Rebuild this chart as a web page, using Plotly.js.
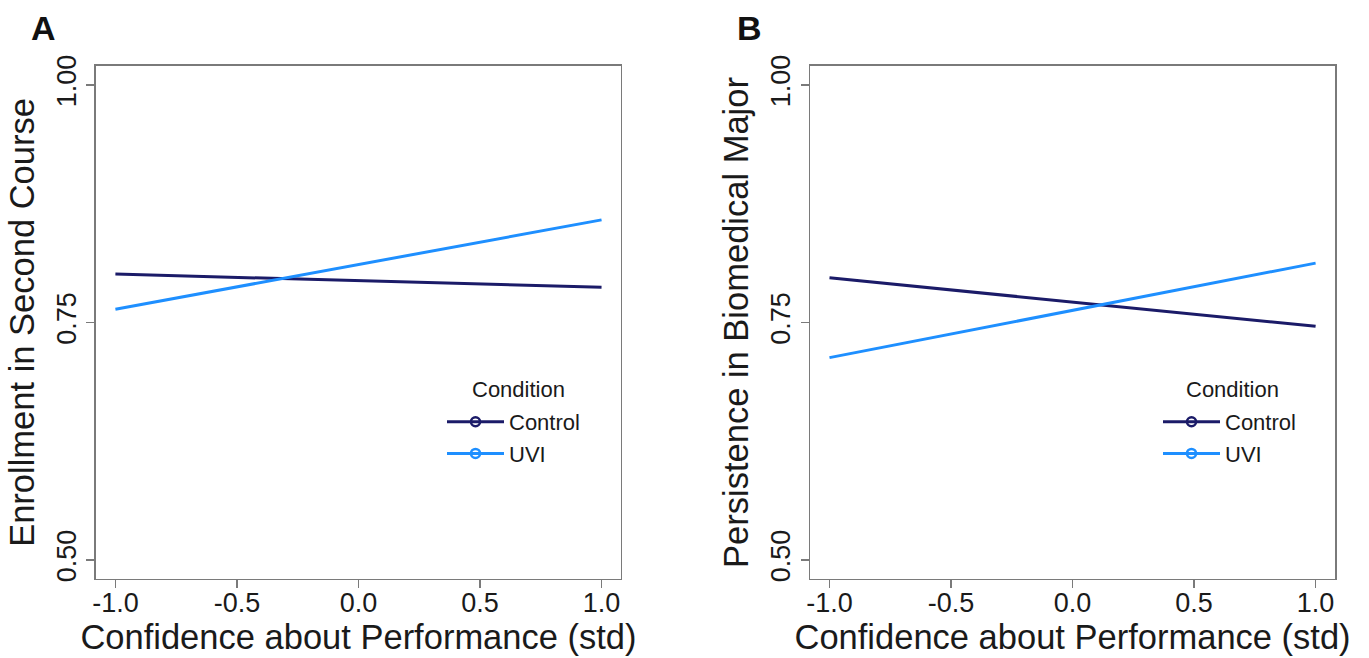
<!DOCTYPE html>
<html>
<head>
<meta charset="utf-8">
<script src="https://cdn.plot.ly/plotly-3.0.1.min.js"></script>
<style>html,body{margin:0;padding:0;background:#fff;}#chart{width:1369px;height:658px;}</style>
</head>
<body>
<div id="chart"></div>
<script>
// Data
const xPoints = [-1.0, 1.0];
const enrollControl = [0.801, 0.787];
const enrollUVI = [0.764, 0.858];
const persistControl = [0.797, 0.746];
const persistUVI = [0.713, 0.8125];
const conditions = ['Control', 'UVI'];
const legendTitle = 'Condition';
const xTickVals = [-1.0, -0.5, 0.0, 0.5, 1.0];
const xTickText = ['-1.0', '-0.5', '0.0', '0.5', '1.0'];
const yTickVals = [0.50, 0.75, 1.00];
const yTickText = ['0.50', '0.75', '1.00'];
const panelLabels = ['A', 'B'];
const yTitles = ['Enrollment in Second Course', 'Persistence in Biomedical Major'];
const xTitle = 'Confidence about Performance (std)';

const colors = {Control: '#1b1b68', UVI: '#1e8fff'};
const FONT = 'Liberation Sans, Arial, Helvetica, sans-serif';
const TXT = '#1a1a1a';

function lineTrace(y, name, xa, ya) {
  return {x: xPoints, y: y, xaxis: xa, yaxis: ya, mode: 'lines', name: name,
    showlegend: false, hoverinfo: 'skip',
    line: {color: colors[name], width: 3}};
}
function legendTrace(name, xa, ya, leg) {
  return {x: [null], y: [null], xaxis: xa, yaxis: ya, mode: 'lines+markers', name: name,
    legend: leg, showlegend: true,
    line: {color: colors[name], width: 3},
    marker: {symbol: 'circle-open', size: 9, color: colors[name], line: {width: 2.5, color: colors[name]}}};
}

const traces = [
  lineTrace(enrollControl, conditions[0], 'x', 'y'),
  lineTrace(enrollUVI, conditions[1], 'x', 'y'),
  lineTrace(persistControl, conditions[0], 'x2', 'y2'),
  lineTrace(persistUVI, conditions[1], 'x2', 'y2'),
  legendTrace(conditions[0], 'x', 'y', 'legend'),
  legendTrace(conditions[1], 'x', 'y', 'legend'),
  legendTrace(conditions[0], 'x2', 'y2', 'legend2'),
  legendTrace(conditions[1], 'x2', 'y2', 'legend2')
];

function xAxis(domain, anchor) {
  return {domain: domain, anchor: anchor, range: [-1.08, 1.08],
    tickvals: xTickVals, ticktext: xTickText,
    showgrid: false, zeroline: false, showline: true, mirror: true,
    linecolor: '#7a7a7a', linewidth: 1.5, ticks: 'outside', ticklen: 8, tickwidth: 1.5,
    tickcolor: '#7a7a7a', tickfont: {family: FONT, size: 27, color: TXT},
    ticklabelstandoff: -9,
    title: {text: xTitle, font: {family: FONT, size: 34.5, color: TXT}, standoff: 5}};
}
function yAxis(domain, anchor, title) {
  return {domain: domain, anchor: anchor, range: [0.48, 1.02],
    tickvals: yTickVals, ticktext: yTickText, tickangle: -90,
    showgrid: false, zeroline: false, showline: true, mirror: true,
    linecolor: '#7a7a7a', linewidth: 1.5, ticks: 'outside', ticklen: 8, tickwidth: 1.5,
    tickcolor: '#7a7a7a', tickfont: {family: FONT, size: 27, color: TXT},
    ticklabelstandoff: 0,
    title: {text: title, font: {family: FONT, size: 34.5, color: TXT}, standoff: 6}};
}
function legend(x) {
  return {x: x, y: 1 - 401 / 658, xanchor: 'left', yanchor: 'top', bgcolor: 'rgba(0,0,0,0)',
    font: {family: FONT, size: 22, color: TXT}, itemwidth: 57};
}

const layout = {
  width: 1369, height: 658,
  margin: {l: 0, r: 0, t: 0, b: 0},
  paper_bgcolor: '#ffffff', plot_bgcolor: '#ffffff',
  font: {family: FONT},
  xaxis: xAxis([0.0701, 0.4536], 'y'),
  yaxis: yAxis([0.1201, 0.8997], 'x', yTitles[0]),
  xaxis2: xAxis([0.5917, 0.9752], 'y2'),
  yaxis2: yAxis([0.1201, 0.8997], 'x2', yTitles[1]),
  legend: legend(442 / 1369),
  legend2: legend(1158 / 1369),
  annotations: [
    {text: '<b>' + panelLabels[0] + '</b>', xref: 'paper', yref: 'paper', x: 44 / 1369, y: 1 - 28 / 658,
      xanchor: 'center', yanchor: 'middle', showarrow: false, font: {family: FONT, size: 34, color: '#111'}},
    {text: '<b>' + panelLabels[1] + '</b>', xref: 'paper', yref: 'paper', x: 749 / 1369, y: 1 - 28 / 658,
      xanchor: 'center', yanchor: 'middle', showarrow: false, font: {family: FONT, size: 34, color: '#111'}},
    {text: legendTitle, xref: 'paper', yref: 'paper', x: 518 / 1369, y: 1 - 389 / 658,
      xanchor: 'center', yanchor: 'middle', showarrow: false, font: {family: FONT, size: 22, color: TXT}},
    {text: legendTitle, xref: 'paper', yref: 'paper', x: 1232 / 1369, y: 1 - 389 / 658,
      xanchor: 'center', yanchor: 'middle', showarrow: false, font: {family: FONT, size: 22, color: TXT}}
  ]
};

Plotly.newPlot('chart', traces, layout, {staticPlot: true, displayModeBar: false});
</script>
</body>
</html>
